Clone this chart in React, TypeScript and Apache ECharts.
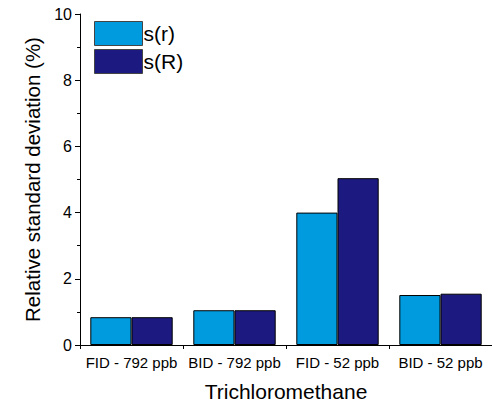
import React, { useEffect, useRef } from "react";
import * as echarts from "echarts";

const categories = ["FID - 792 ppb", "BID - 792 ppb", "FID - 52 ppb", "BID - 52 ppb"];
const seriesNames = ["s(r)", "s(R)"];
const sr = [0.84, 1.05, 4.0, 1.51];
const sR = [0.84, 1.05, 5.04, 1.55];
const colors = ["#009BDF", "#1C1A80"];

export default function App() {
  const ref = useRef<HTMLDivElement>(null);
  useEffect(() => {
    if (!ref.current) return;
    const chart = echarts.init(ref.current, null, { renderer: "svg" });
    const font = "'Liberation Sans', Arial, sans-serif";
    const barStyle = (c: string) => ({
      color: c,
      borderColor: "#000",
      borderWidth: 1,
    });
    chart.setOption({
      animation: false,
      textStyle: { fontFamily: font },
      grid: { left: 80, right: 0, top: 14, bottom: 62, containLabel: false },
      legend: {
        orient: "vertical",
        left: 89,
        top: 16,
        icon: "rect",
        itemWidth: 48,
        itemHeight: 24,
        itemGap: 3,
        data: seriesNames.map((n, i) => ({
          name: n,
          itemStyle: { color: colors[i], borderColor: "#444", borderWidth: 1 },
        })),
        textStyle: { fontSize: 21, color: "#000", fontFamily: font, padding: [0, 0, 0, -4] },
      },
      xAxis: {
        type: "category",
        data: categories,
        name: "Trichloromethane",
        nameLocation: "middle",
        nameGap: 36,
        nameTextStyle: { fontSize: 21, color: "#000", fontFamily: font },
        axisLine: { lineStyle: { color: "#000", width: 1 } },
        axisTick: { show: true, length: 4, lineStyle: { color: "#000" } },
        axisLabel: { fontSize: 15, color: "#000", margin: 10, fontFamily: font, interval: 0 },
      },
      yAxis: {
        type: "value",
        min: 0,
        max: 10,
        interval: 2,
        name: "Relative standard deviation (%)",
        nameLocation: "middle",
        nameGap: 35,
        nameTextStyle: { fontSize: 20.5, color: "#000", fontFamily: font },
        axisLine: { show: true, lineStyle: { color: "#000", width: 1 } },
        axisTick: { show: true, length: 5, lineStyle: { color: "#000" } },
        minorTick: { show: true, splitNumber: 2, length: 3, lineStyle: { color: "#000" } },
        splitLine: { show: false },
        axisLabel: { fontSize: 16, color: "#000", margin: 8, fontFamily: font },
      },
      series: [
        {
          name: seriesNames[0],
          type: "bar",
          data: sr,
          barGap: "0%",
          barCategoryGap: "20%",
          itemStyle: barStyle(colors[0]),
        },
        {
          name: seriesNames[1],
          type: "bar",
          data: sR,
          barGap: "0%",
          barCategoryGap: "20%",
          itemStyle: barStyle(colors[1]),
        },
      ],
    });
    return () => chart.dispose();
  }, []);
  return <div ref={ref} style={{ width: 492, height: 407, position: "absolute", left: 0, top: 0 }} />;
}
